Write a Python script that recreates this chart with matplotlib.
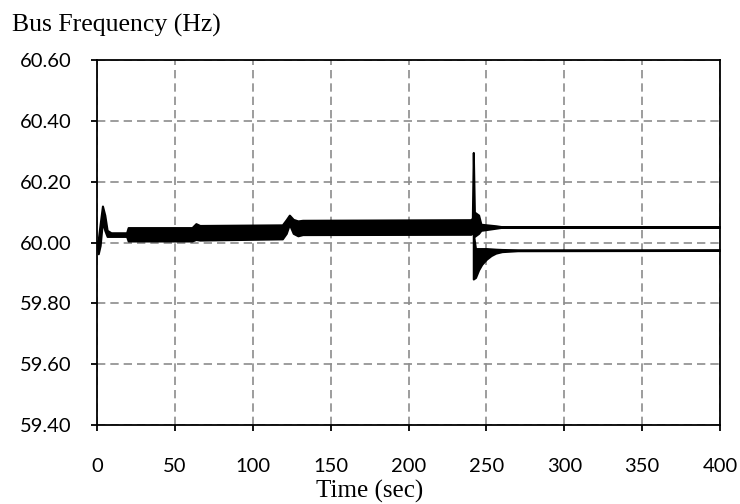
import matplotlib
matplotlib.use("Agg")
import matplotlib.pyplot as plt

# upper trace (single bus before the split, upper branch after it): envelope of the oscillation band
t_a = [0, 0.8, 2, 3.5, 5, 6.5, 9, 19, 20, 61, 63.5, 66, 119, 121.5, 123.5, 126, 129, 132,
       240, 241, 241.6, 242.3, 245, 246.5, 256, 260, 400]
a_hi = [60.00, 60.01, 60.06, 60.12, 60.09, 60.04, 60.032, 60.032, 60.049, 60.049, 60.062, 60.056,
        60.058, 60.075, 60.09, 60.076, 60.071, 60.073, 60.075, 60.08, 60.296, 60.10, 60.09, 60.06,
        60.055, 60.052, 60.052]
a_lo = [60.00, 59.963, 59.99, 60.07, 60.04, 60.02, 60.02, 60.02, 60.005, 60.005, 60.01, 60.008,
        60.012, 60.03, 60.06, 60.03, 60.022, 60.026, 60.027, 60.03, 60.03, 60.02, 60.03, 60.04,
        60.047, 60.05, 60.05]

# lower branch after the event at ~241 s
t_b = [241.6, 243, 245, 247, 250, 253, 256, 260, 270, 400]
b_hi = [60.03, 59.98, 59.98, 59.98, 59.98, 59.979, 59.978, 59.977, 59.976, 59.976]
b_lo = [59.88, 59.885, 59.91, 59.928, 59.945, 59.957, 59.965, 59.970, 59.973, 59.974]

x_ticks = [0, 50, 100, 150, 200, 250, 300, 350, 400]
y_ticks = [59.40, 59.60, 59.80, 60.00, 60.20, 60.40, 60.60]

plt.rcParams['font.family'] = ['Lato', 'DejaVu Sans']
serif = ['Liberation Serif', 'DejaVu Serif']

fig = plt.figure(figsize=(7.4, 5.04), dpi=100)
ax = fig.add_axes([97 / 740, 1 - 425 / 504, (720 - 97) / 740, (425 - 60) / 504])

ax.fill_between(t_a, a_lo, a_hi, color='black', edgecolor='black', linewidth=1.5, zorder=3)
ax.fill_between(t_b, b_lo, b_hi, color='black', edgecolor='black', linewidth=1.5, zorder=3)

ax.set_xlim(0, 400)
ax.set_ylim(59.40, 60.60)
ax.set_xticks(x_ticks)
ax.set_yticks(y_ticks)
ax.set_yticklabels(['%.2f' % v for v in y_ticks])
ax.grid(True, color='#8c8c8c', linestyle=(0, (5, 3)), linewidth=1.2)
for s in ax.spines.values():
    s.set_linewidth(1.3)
    s.set_color('black')
ax.tick_params(axis='both', direction='out', length=4, width=1.3, labelsize=14.5)
ax.tick_params(axis='x', pad=20)
ax.tick_params(axis='y', pad=14)

fig.text(12 / 740, 1 - 32 / 504, 'Bus Frequency (Hz)', family=serif, fontsize=18.5,
         ha='left', va='baseline')
fig.text(370 / 740, 1 - 498 / 504, 'Time (sec)', family=serif, fontsize=18,
         ha='center', va='baseline')

fig.savefig('out.png', dpi=100)
